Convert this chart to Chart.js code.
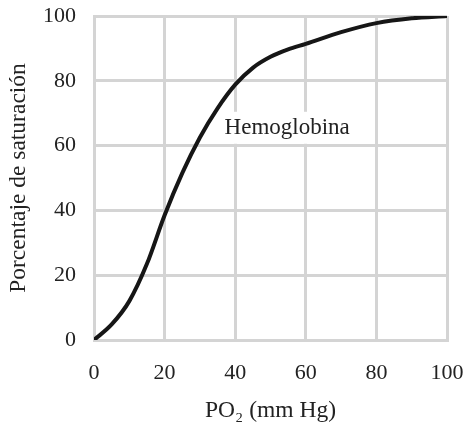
<!DOCTYPE html>
<html>
<head>
<meta charset="utf-8">
<script src="https://cdn.jsdelivr.net/npm/chart.js@4"></script>
<style>
  html, body { margin: 0; padding: 0; background: #fff; }
  #wrap { width: 464px; height: 426px; }
</style>
</head>
<body>
<div id="wrap"><canvas id="curveChart" width="464" height="426"></canvas></div>
<script>
// Values
const po2 = [0, 5, 10, 15, 20, 25, 30, 35, 40, 45, 50, 55, 60, 70, 80, 90, 100];
const saturation = [0, 4.8, 12, 23.5, 38.5, 51.5, 62.5, 71.5, 78.8, 84, 87.4, 89.7, 91.4, 95, 97.8, 99.3, 100];
const xTicks = [0, 20, 40, 60, 80, 100];
const yTicks = [0, 20, 40, 60, 80, 100];
const curveLabel = 'Hemoglobina';

const gridColor = '#d4d4d4';
const textColor = '#222';
const serif = "'Liberation Serif', 'Times New Roman', serif";

// Draws the curve name with a white box behind it, placed in data units
const curveLabelPlugin = {
    id: 'curveLabel',
    afterDatasetsDraw(chart, args, opts) {
        const ctx = chart.ctx;
        const x = chart.scales.x.getPixelForValue(opts.x);
        const y = chart.scales.y.getPixelForValue(opts.y);
        ctx.save();
        ctx.font = '23px ' + serif;
        const w = ctx.measureText(opts.text).width;
        ctx.fillStyle = '#fff';
        ctx.fillRect(x - 3, y - 16, w + 6, 32);
        ctx.fillStyle = textColor;
        ctx.textBaseline = 'middle';
        ctx.textAlign = 'left';
        ctx.fillText(opts.text, x, y);
        ctx.restore();
    }
};

new Chart(document.getElementById('curveChart'), {
    type: 'line',
    data: {
        datasets: [{
            label: curveLabel,
            data: po2.map((p, i) => ({ x: p, y: saturation[i] })),
            borderColor: '#161616',
            borderWidth: 4,
            pointRadius: 0,
            fill: false,
            cubicInterpolationMode: 'monotone'
        }]
    },
    options: {
        responsive: false,
        animation: false,
        layout: { padding: { left: 2, right: 17, top: 16, bottom: 0 } },
        plugins: {
            legend: { display: false },
            tooltip: { enabled: false },
            curveLabel: { text: curveLabel, x: 37, y: 65.5 }
        },
        scales: {
            x: {
                type: 'linear',
                min: 0,
                max: 100,
                afterBuildTicks: s => { s.ticks = xTicks.map(v => ({ value: v })); },
                afterFit: s => {
                    s.height = 86;
                    s.paddingLeft = 0;
                    s.paddingRight = 0;
                },
                grid: { color: gridColor, lineWidth: 3, drawTicks: false },
                border: { color: gridColor, width: 3 },
                ticks: { color: textColor, padding: 20, font: { family: serif, size: 22 } },
                title: {
                    display: true,
                    text: 'PO₂ (mm Hg)',
                    color: textColor,
                    padding: { top: 0, bottom: 1 },
                    font: { family: serif, size: 23.5 }
                }
            },
            y: {
                type: 'linear',
                min: 0,
                max: 100,
                afterBuildTicks: s => { s.ticks = yTicks.map(v => ({ value: v })); },
                afterFit: s => {
                    s.width = 92;
                    s.paddingTop = 0;
                    s.paddingBottom = 0;
                },
                grid: { color: gridColor, lineWidth: 3, drawTicks: false },
                border: { color: gridColor, width: 3 },
                ticks: { color: textColor, padding: 18, font: { family: serif, size: 22 } },
                title: {
                    display: true,
                    text: 'Porcentaje de saturación',
                    color: textColor,
                    padding: { top: 3, bottom: 0 },
                    font: { family: serif, size: 23.5 }
                }
            }
        }
    },
    plugins: [curveLabelPlugin]
});
</script>
</body>
</html>
